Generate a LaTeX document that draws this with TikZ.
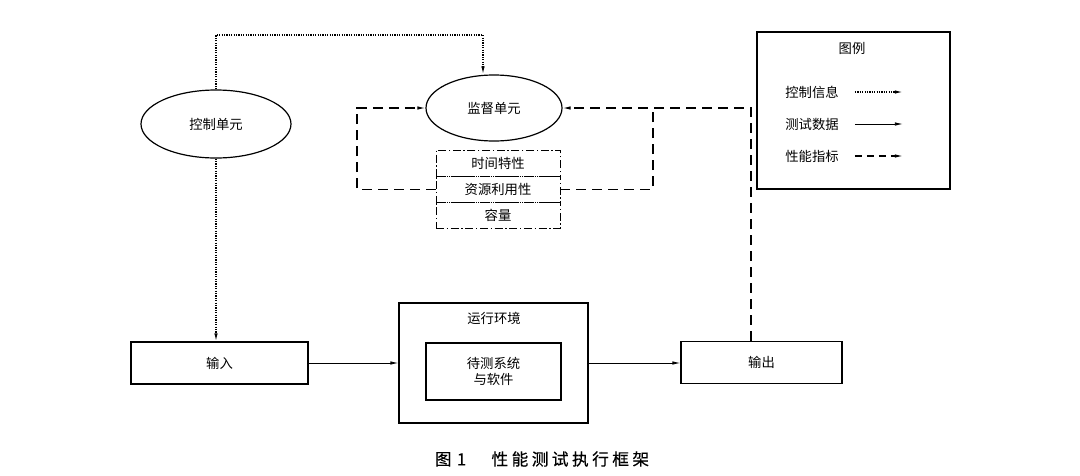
\documentclass[tikz,border=0pt]{standalone}
\usepackage{fontspec}
\setmainfont{Noto Sans CJK SC}
\newfontfamily\capfont[FakeBold=0.3]{Noto Sans CJK SC}
\usetikzlibrary{arrows.meta,shapes.geometric}

\begin{document}
\begin{tikzpicture}[x=0.75pt,y=0.75pt,yscale=-1,xscale=1,
  every node/.style={font=\fontsize{10pt}{12pt}\selectfont, inner sep=0pt},
  blk/.style={draw, line width=0.9pt, minimum height=31.5pt},
  oval/.style={draw, ellipse, line width=0.9pt},
  mbox/.style={draw, line width=0.7pt, dash pattern=on 6pt off 2pt on 1pt off 2pt, minimum width=93pt, minimum height=19.5pt},
  ctrlline/.style={line width=0.9pt, dash pattern=on 0.9pt off 0.9pt},
  dataline/.style={line width=0.6pt},
  perfline/.style={line width=0.8pt, dash pattern=on 7.5pt off 4.5pt},
  tip/.style={-{Latex[length=6pt,width=2.6pt]}}]
\path (0,0) rectangle (1080,475); %set diagram size

%Shape: Ellipse [control, supervision]
\node[oval, minimum width=112.5pt, minimum height=51pt] (ctrl) at (216,124) {控制单元};
\node[oval, minimum width=102pt, minimum height=49.5pt] (sup) at (494,108) {监督单元};
%Shape: Metric boxes
\node[mbox] (m1) at (498,163) {时间特性};
\node[mbox] (m2) at (498,189.5) {资源利用性};
\node[mbox] (m3) at (498,215.5) {容量};

%Shape: Rectangles [bottom row]
\node[blk, minimum width=132.75pt] (input) at (219.5,363) {输入};
\node[blk, minimum width=141.75pt, minimum height=90pt] (env) at (493.5,363) {};
\node (envlabel) at (494,318) {运行环境};
\node[blk, minimum width=101.25pt, minimum height=42.75pt, align=center] (sut) at (493.5,371.5) {待测系统\\与软件};
\node[blk, minimum width=120.75pt] (output) at (761.5,362.5) {输出};

%Shape: Legend
\node[draw, line width=0.9pt, minimum width=144.75pt, minimum height=117.75pt] (legend) at (853.5,110.5) {};
\node (legtitle) at (852,48) {图例};
\node (lg1) at (812,92) {控制信息};
\node (lg2) at (812,124) {测试数据};
\node (lg3) at (812,156) {性能指标};
\draw[ctrlline, tip] ([xshift=12pt]lg1.east) -- ++(48,0);
\draw[dataline, tip] ([xshift=12pt]lg2.east) -- ++(48,0);
\draw[perfline, dash pattern=on 5pt off 4pt, tip] ([xshift=12pt]lg3.east) -- ++(48,0);

%Free ends of the connectors
\coordinate (c1) at (483,35);
\coordinate (c2) at (751,108);
\coordinate (c3) at (653,108);
\coordinate (c4) at (357,108);

%Control information
\draw[ctrlline, tip] (ctrl.north) |- (c1) -- (c1 |- sup.north);
\draw[ctrlline, tip] (ctrl.south) -- (ctrl.south |- input.north);
%Test data
\draw[dataline, tip] (input.east) -- (env.west);
\draw[dataline, tip] (env.east) -- (env.east -| output.west);
%Performance indicators
\draw[perfline, tip] (output.north -| c2) -- (c2) -- (sup.east);
\draw[perfline] (m2.east) -| (c3);
\draw[perfline, tip] (m2.west) -| (c4) -- (sup.west);

% Text Node
\node[font=\capfont\fontsize{12.5pt}{14pt}\selectfont] (caption) at (542,459) {图\hspace{4pt}1\hspace{19pt}性\hspace{2.6pt}能\hspace{2.6pt}测\hspace{2.6pt}试\hspace{2.6pt}执\hspace{2.6pt}行\hspace{2.6pt}框\hspace{2.6pt}架};
\end{tikzpicture}
\end{document}
